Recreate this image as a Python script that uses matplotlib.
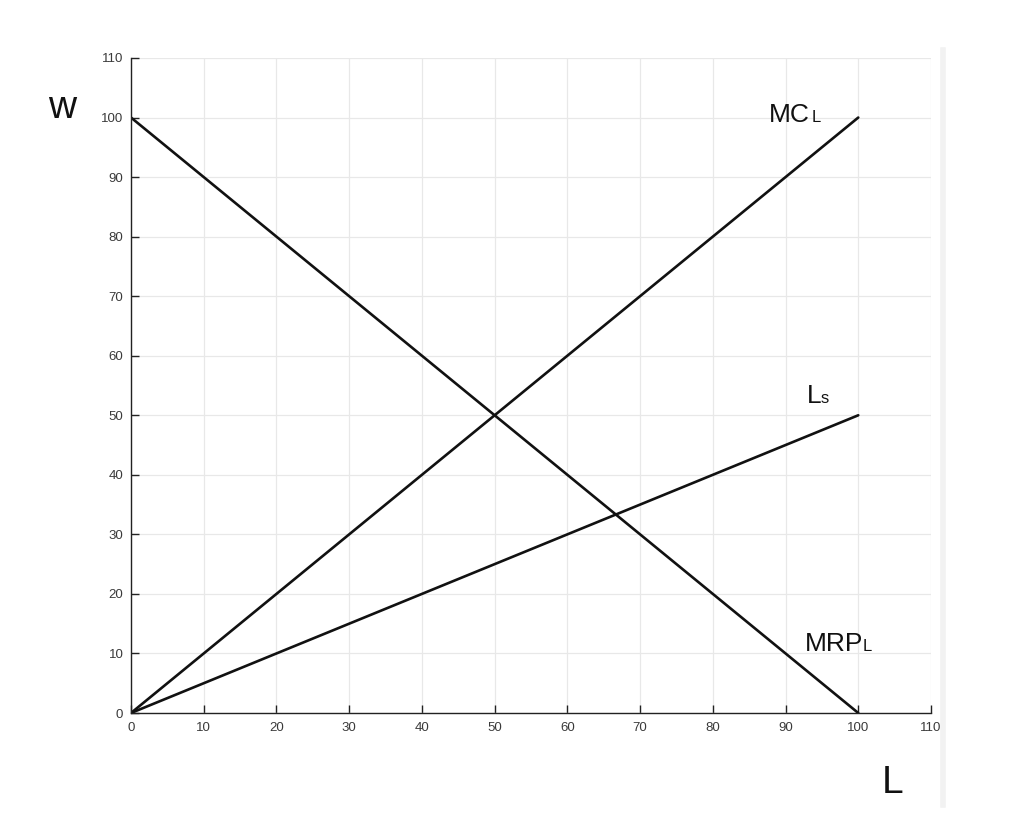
import matplotlib
matplotlib.use('Agg')
import matplotlib.pyplot as plt
from matplotlib.lines import Line2D

plt.rcParams['font.family'] = ['Liberation Sans', 'DejaVu Sans']

# curve end points (L, w)
labor = [0, 100]
mrp_l = [100, 0]
mc_l = [0, 100]
l_supply = [0, 50]

ticks = list(range(0, 111, 10))

fig = plt.figure(figsize=(10.24, 8.4), dpi=100)
ax = fig.add_axes([131 / 1024, 127 / 840, 800 / 1024, 655 / 840])

ax.plot(labor, mrp_l, color='#111111', lw=1.9, solid_capstyle='round')
ax.plot(labor, mc_l, color='#111111', lw=1.9, solid_capstyle='round')
ax.plot(labor, l_supply, color='#111111', lw=1.9, solid_capstyle='round')

ax.set_xlim(0, 110)
ax.set_ylim(0, 110)
ax.set_xticks(ticks)
ax.set_yticks(ticks)
ax.grid(True, color='#e8e8e8', lw=0.9)
ax.set_axisbelow(True)
for side in ['top', 'right']:
    ax.spines[side].set_visible(False)
for side in ['left', 'bottom']:
    ax.spines[side].set_color('#222222')
    ax.spines[side].set_linewidth(1.0)
ax.tick_params(direction='in', length=6, width=1, colors='#222222',
               labelsize=9.5, labelcolor='#3a3a3a')
ax.tick_params(axis='x', pad=6.5)
ax.tick_params(axis='y', pad=5.5)

# curve labels (big letters + smaller subscript)
def label(x0, y0, big, small, gap):
    ax.text(x0, y0, big, fontsize=19, va='baseline', ha='left', color='#111111')
    ax.text(x0 + gap, y0, small, fontsize=12, va='baseline', ha='left', color='#111111')

label(87.7, 99.2, 'MC', 'L', 5.9)
label(93.0, 52.0, 'L', 's', 1.85)
label(92.6, 10.4, 'MRP', 'L', 8.0)

fig.text(62 / 1024, 1 - 108 / 840, 'w', fontsize=28, ha='center', va='center', color='#111111')
fig.text(893 / 1024, 1 - 793 / 840, 'L', fontsize=28, ha='center', va='baseline', color='#111111')

# faint edge strip at the right of the picture
fig.add_artist(Line2D([943 / 1024, 943 / 1024], [1 - 805 / 840, 1 - 50 / 840],
                      transform=fig.transFigure, color='#f2f2f2', lw=4))

plt.savefig('out.png', dpi=100)
plt.close()
